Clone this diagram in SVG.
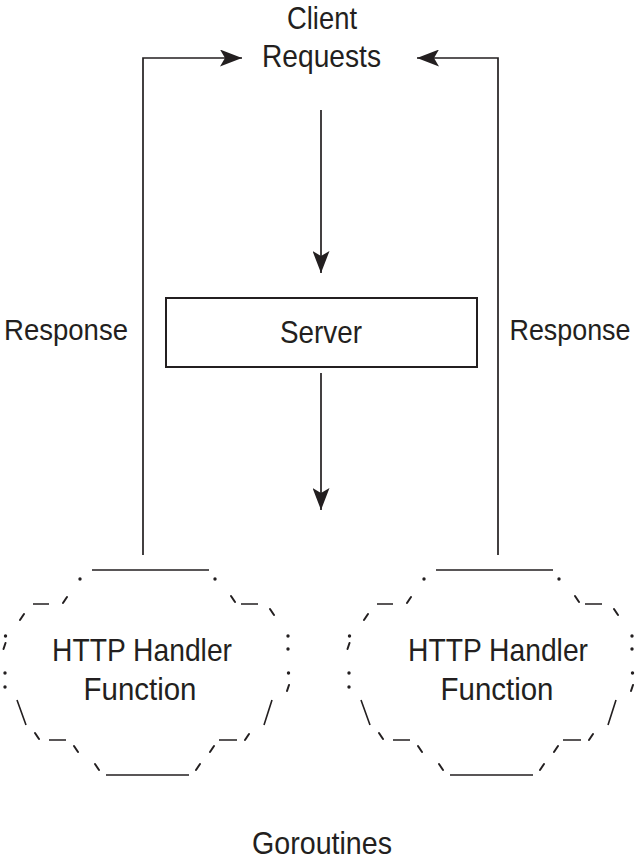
<svg xmlns="http://www.w3.org/2000/svg" width="639" height="864" viewBox="0 0 639 864">
<style>
  text { font-family: "Liberation Sans", Arial, sans-serif; font-size: 32px; fill: #231f20; text-anchor: middle; }
  text.resp { font-size: 29px; }
  .conn { fill: none; stroke: #231f20; stroke-width: 1.7; }
  .box { fill: #ffffff; stroke: #231f20; stroke-width: 2; }
  .ascii { fill: none; stroke: #231f20; stroke-width: 1.6; stroke-linecap: butt; }
  .tick { fill: none; stroke: #231f20; stroke-width: 2; stroke-linecap: round; }
  .dot { fill: #231f20; }
</style>
<defs>
  <marker id="arrow" markerUnits="userSpaceOnUse" markerWidth="22" markerHeight="17" refX="22" refY="8.5" orient="auto">
    <path d="M0,0 L22,8.5 L0,17 L5,8.5 Z" fill="#231f20"/>
  </marker>
  <g id="cloud">
    <path class="ascii" d="M92 570 H209 M33 604 H49 M241 604 H258 M17 700 L26 725 M272 700 L264 725 M49 740 H66 M219 740 H237 M106 775 H189"/>
    <path class="tick" d="M63 603 L67 597 M231 596 L235 602 M20 620 L24 614 M270 609 L274 615 M35 733 L39 739 M74 746 L78 752 M210 752 L214 746 M245 740 L249 734 M95 764 L99 770 M196 770 L200 764 M5.5 643 L3.5 649 M289 685 L287 691"/>
    <circle class="dot" cx="80" cy="579" r="1.7"/>
    <circle class="dot" cx="215" cy="579" r="1.7"/>
    <circle class="dot" cx="5.5" cy="636" r="1.7"/>
    <circle class="dot" cx="288" cy="636" r="1.7"/>
    <circle class="dot" cx="288" cy="649" r="1.7"/>
    <circle class="dot" cx="5" cy="673" r="1.7"/>
    <circle class="dot" cx="5" cy="687" r="1.7"/>
    <circle class="dot" cx="288.5" cy="673" r="1.7"/>
  </g>
</defs>
<rect width="639" height="864" fill="#ffffff"/>

<g id="connectors">
  <path class="conn" d="M321 110 V273" marker-end="url(#arrow)"/>
  <path class="conn" d="M321 373 V510" marker-end="url(#arrow)"/>
  <path class="conn" d="M143 555 V58 H242" marker-end="url(#arrow)"/>
  <path class="conn" d="M498 555 V58 H417" marker-end="url(#arrow)"/>
</g>

<g id="client-requests">
  <text x="322" y="29" textLength="70" lengthAdjust="spacingAndGlyphs">Client</text>
  <text x="321.5" y="67" textLength="119" lengthAdjust="spacingAndGlyphs">Requests</text>
</g>

<g id="server">
  <rect class="box" x="166" y="298" width="311" height="69"/>
  <text x="321" y="343" textLength="82" lengthAdjust="spacingAndGlyphs">Server</text>
</g>

<g id="response-left">
  <text class="resp" x="66" y="340" textLength="124" lengthAdjust="spacingAndGlyphs">Response</text>
</g>
<g id="response-right">
  <text class="resp" x="570" y="340" textLength="121" lengthAdjust="spacingAndGlyphs">Response</text>
</g>

<g id="handler-left">
  <use href="#cloud"/>
  <text x="142" y="661" textLength="180" lengthAdjust="spacingAndGlyphs">HTTP Handler</text>
  <text x="140" y="700" textLength="113" lengthAdjust="spacingAndGlyphs">Function</text>
</g>

<g id="handler-right">
  <use href="#cloud" transform="translate(344,0)"/>
  <text x="498" y="661" textLength="180" lengthAdjust="spacingAndGlyphs">HTTP Handler</text>
  <text x="497" y="700" textLength="113" lengthAdjust="spacingAndGlyphs">Function</text>
</g>

<g id="goroutines">
  <text x="322" y="854" textLength="140" lengthAdjust="spacingAndGlyphs">Goroutines</text>
</g>
</svg>
